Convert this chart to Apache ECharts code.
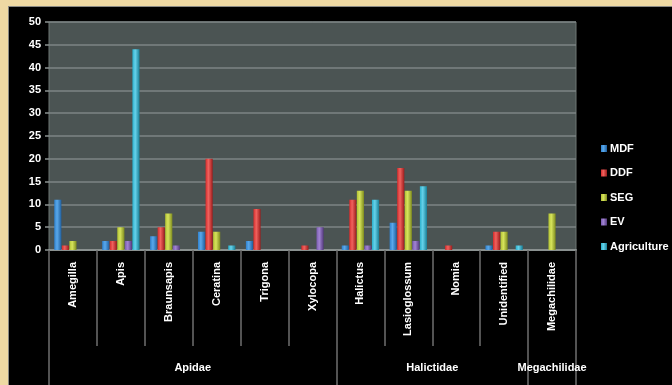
<!DOCTYPE html>
<html>
<head>
<meta charset="utf-8">
<script src="https://cdn.jsdelivr.net/npm/echarts@6/dist/echarts.min.js"></script>
<style>
  html, body { margin: 0; padding: 0; width: 672px; height: 385px; overflow: hidden; background: #eed9a3; }
  #frame { position: absolute; left: 8px; top: 6px; width: 664px; height: 379px; background: #8a8a84; }
  #chart { position: absolute; left: 9px; top: 7px; width: 663px; height: 378px; background: #000; }
</style>
</head>
<body>
<div id="frame"></div>
<div id="chart"></div>
<script>
// Bee genera sampled in each habitat, grouped by family
const genera = ['Amegilla', 'Apis', 'Braunsapis', 'Ceratina', 'Trigona', 'Xylocopa',
                'Halictus', 'Lasioglossum', 'Nomia', 'Unidentified', 'Megachilidae'];
const families = ['Apidae', 'Halictidae', 'Megachilidae'];
const familySpans = [6, 4, 1]; // number of genera in each family, in order

const seriesNames = ['MDF', 'DDF', 'SEG', 'EV', 'Agriculture'];
const MDF         = [11, 2, 3, 4, 2, 0, 1, 6, 0, 1, 0];
const DDF         = [1, 2, 5, 20, 9, 1, 11, 18, 1, 4, 0];
const SEG         = [2, 5, 8, 4, 0, 0, 13, 13, 0, 4, 8];
const EV          = [0, 2, 1, 0, 0, 5, 1, 2, 0, 0, 0];
const Agriculture = [0, 44, 0, 1, 0, 0, 11, 14, 0, 1, 0];

const yTicks = [0, 5, 10, 15, 20, 25, 30, 35, 40, 45, 50];

const palette = [
  ['#5aa8ea', '#2f82cf', '#1f5f9e'],
  ['#f0625e', '#d42c2c', '#9c1c1c'],
  ['#d6e35c', '#b2c232', '#7f8c1e'],
  ['#a184d2', '#7a5bb0', '#54397e'],
  ['#66d2ea', '#2ab0cc', '#1a7f96']
];

function barFill(c) {
  return new echarts.graphic.LinearGradient(0, 0, 1, 0, [
    { offset: 0, color: c[1] },
    { offset: 0.4, color: c[0] },
    { offset: 1, color: c[2] }
  ]);
}

// Half-step slots used for the family level of the category axis
const familySlots = [];
for (let i = 0; i <= genera.length * 2; i++) familySlots.push(String(i / 2));
const familyLabelAt = {};
const familyTickAt = { 0: true };
let start = 0;
families.forEach((f, k) => {
  const end = start + familySpans[k];
  familyLabelAt[start + end] = f;  // slot index of the span centre
  familyTickAt[end * 2] = true;
  start = end;
});

const dataBySeries = [MDF, DDF, SEG, EV, Agriculture];
const font = 'Liberation Sans';

const chart = echarts.init(document.getElementById('chart'), null, { renderer: 'canvas' });
chart.setOption({
  animation: false,
  backgroundColor: '#000',
  textStyle: { fontFamily: font },
  grid: {
    left: 40, top: 15, right: 96, bottom: 135,
    show: true, backgroundColor: '#4b5453', borderColor: '#6e7675', borderWidth: 1
  },
  legend: {
    orient: 'vertical',
    right: 0, left: 587, top: 131,
    itemWidth: 6, itemHeight: 7, itemGap: 13.5,
    icon: 'rect',
    data: seriesNames,
    textStyle: { color: '#ffffff', fontSize: 11, fontWeight: 'bold', fontFamily: font, padding: [0, 0, 0, -2] }
  },
  xAxis: [
    {
      type: 'category',
      data: genera,
      position: 'bottom',
      axisLine: { show: true, lineStyle: { color: '#8a9190', width: 2 } },
      axisTick: { show: true, length: 96, interval: 0, lineStyle: { color: '#6f6f6f', width: 1.5 } },
      axisLabel: {
        interval: 0, rotate: 90, margin: 12,
        color: '#ffffff', fontSize: 11, fontWeight: 'bold', fontFamily: font
      },
      splitLine: { show: false }
    },
    {
      type: 'category',
      data: familySlots,
      boundaryGap: false,
      position: 'bottom',
      axisLine: { show: false },
      axisTick: {
        show: true, length: 140,
        interval: (i) => !!familyTickAt[i],
        lineStyle: { color: '#6f6f6f', width: 1.5 }
      },
      axisLabel: {
        interval: (i) => familyLabelAt[i] !== undefined,
        formatter: (v, i) => familyLabelAt[i] || '',
        margin: 112, color: '#ffffff', fontSize: 11, fontWeight: 'bold', fontFamily: font
      },
      splitLine: { show: false }
    }
  ],
  yAxis: {
    type: 'value',
    min: yTicks[0], max: yTicks[yTicks.length - 1], interval: yTicks[1] - yTicks[0],
    axisLine: { show: false },
    axisTick: { show: true, length: 4, lineStyle: { color: '#8a9190', width: 1.5 } },
    axisLabel: { color: '#ffffff', fontSize: 11, fontWeight: 'bold', fontFamily: font, margin: 8 },
    splitLine: { show: true, lineStyle: { color: '#7d8585', width: 1.5 } }
  },
  series: seriesNames.map((name, k) => ({
    name: name,
    type: 'bar',
    xAxisIndex: 0,
    data: dataBySeries[k],
    barGap: '6%',
    barCategoryGap: '22%',
    itemStyle: { color: barFill(palette[k]) }
  }))
});
// legend swatches use the flat series colour
chart.setOption({
  series: seriesNames.map((name, k) => ({ name: name, color: palette[k][1] }))
});
</script>
</body>
</html>
